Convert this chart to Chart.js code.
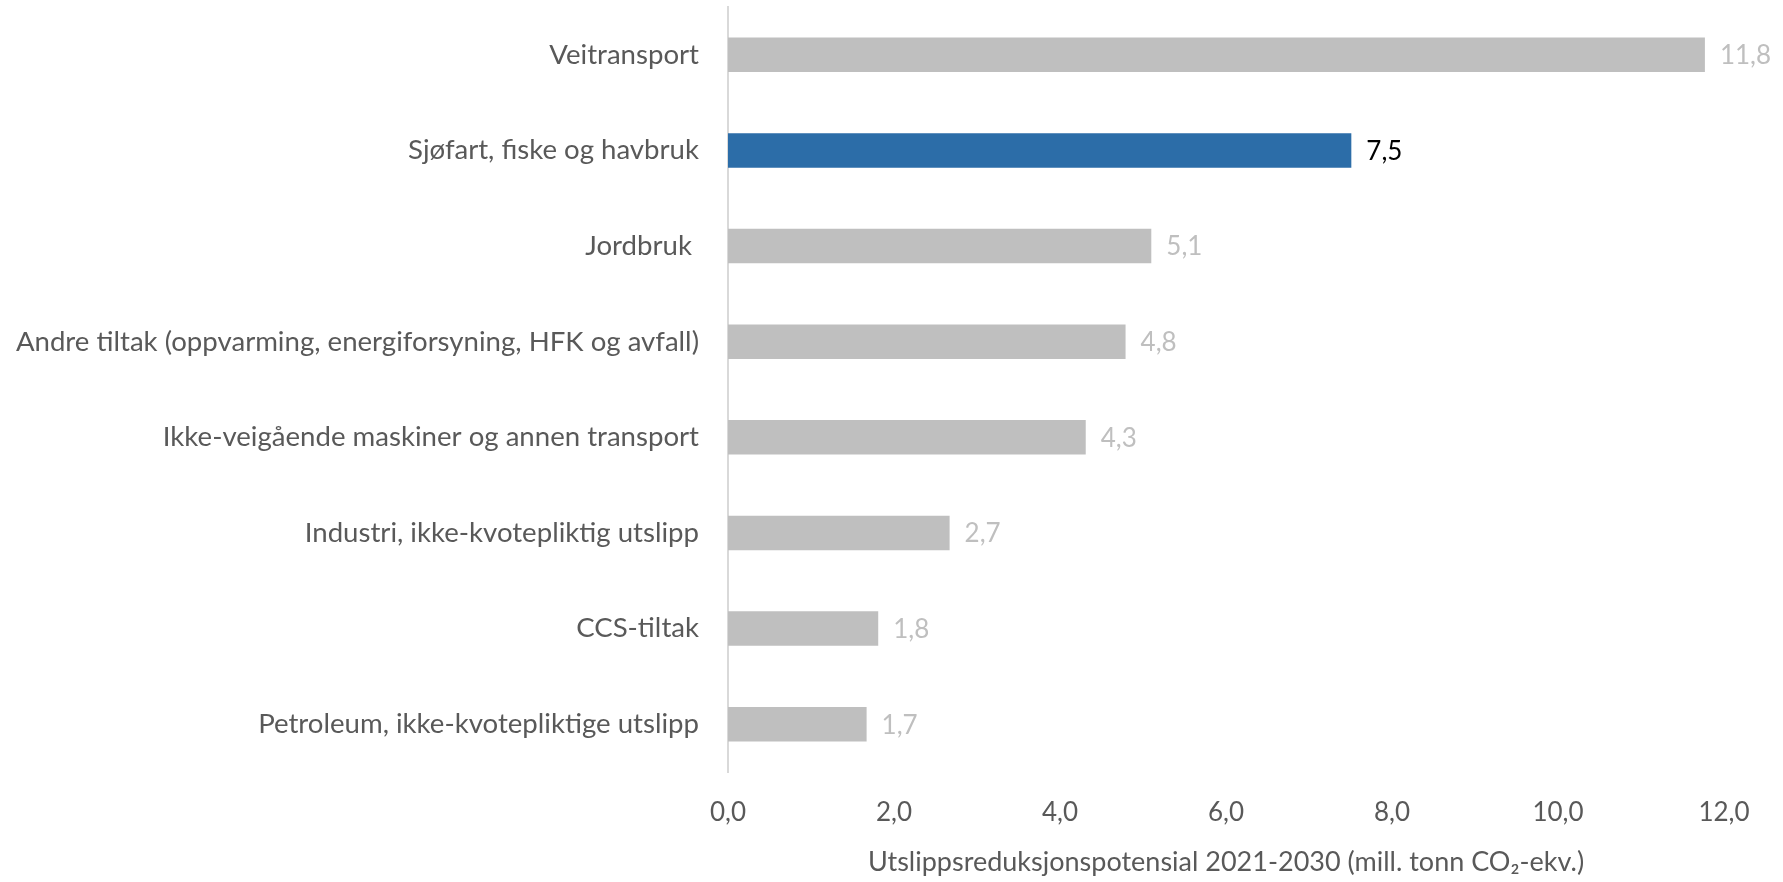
<!DOCTYPE html>
<html>
<head>
<meta charset="utf-8">
<script src="https://cdn.jsdelivr.net/npm/chart.js@4"></script>
<style>
  html, body { margin: 0; padding: 0; background: #fff; }
  #wrap { width: 1783px; height: 882px; }
</style>
</head>
<body>
<div id="wrap"><canvas id="myChart" width="1783" height="882"></canvas></div>
<script>
// data
const categories = [
  'Veitransport',
  'Sjøfart, fiske og havbruk',
  'Jordbruk ',
  'Andre tiltak (oppvarming, energiforsyning, HFK og avfall)',
  'Ikke-veigående maskiner og annen transport',
  'Industri, ikke-kvotepliktig utslipp',
  'CCS-tiltak',
  'Petroleum, ikke-kvotepliktige utslipp'
];
const values = [11.77, 7.51, 5.1, 4.79, 4.31, 2.67, 1.81, 1.67];
const highlighted = [false, true, false, false, false, false, false, false];
const axisTitle = 'Utslippsreduksjonspotensial 2021-2030 (mill. tonn CO₂-ekv.)';

const FONT = 'Lato, "Open Sans", sans-serif';
const fmt = v => v.toFixed(1).replace('.', ',');

// draws the value next to each bar end
const valueLabels = {
  id: 'valueLabels',
  afterDatasetsDraw(chart) {
    const ctx = chart.ctx;
    const meta = chart.getDatasetMeta(0);
    ctx.save();
    ctx.font = '26px ' + FONT;
    ctx.textAlign = 'left';
    ctx.textBaseline = 'middle';
    meta.data.forEach((bar, i) => {
      ctx.fillStyle = highlighted[i] ? '#000000' : '#bfbfbf';
      ctx.fillText(fmt(values[i]), bar.x + 15, bar.y + 1);
    });
    ctx.restore();
  }
};

const ctx = document.getElementById('myChart').getContext('2d');
const myChart = new Chart(ctx, {
  type: 'bar',
  data: {
    labels: categories,
    datasets: [{
      data: values,
      backgroundColor: highlighted.map(h => h ? '#2c6da8' : '#bfbfbf'),
      borderWidth: 0,
      categoryPercentage: 1,
      barPercentage: 0.36
    }]
  },
  options: {
    indexAxis: 'y',
    responsive: false,
    animation: false,
    layout: { padding: { top: 7, right: 59, bottom: 0, left: 0 } },
    plugins: {
      legend: { display: false },
      tooltip: { enabled: false }
    },
    scales: {
      x: {
        min: 0,
        max: 12,
        grid: { display: false, drawTicks: false },
        border: { display: false },
        ticks: {
          stepSize: 2,
          padding: 25,
          color: '#595959',
          font: { family: FONT, size: 26 },
          callback: v => fmt(v)
        },
        title: {
          display: true,
          text: axisTitle,
          color: '#595959',
          font: { family: FONT, size: 27 },
          padding: { top: 0, bottom: 4 }
        },
        afterFit(scale) {
          scale.height = 110;
          scale.paddingLeft = 0;
          scale.paddingRight = 0;
        }
      },
      y: {
        grid: { display: false, drawTicks: false },
        border: { display: true, color: '#d9d9d9', width: 2 },
        ticks: {
          padding: 29,
          color: '#595959',
          font: { family: FONT, size: 27.6 }
        },
        afterFit(scale) {
          scale.width = 728;
          scale.paddingTop = 0;
          scale.paddingBottom = 0;
        }
      }
    }
  },
  plugins: [valueLabels]
});
</script>
</body>
</html>
